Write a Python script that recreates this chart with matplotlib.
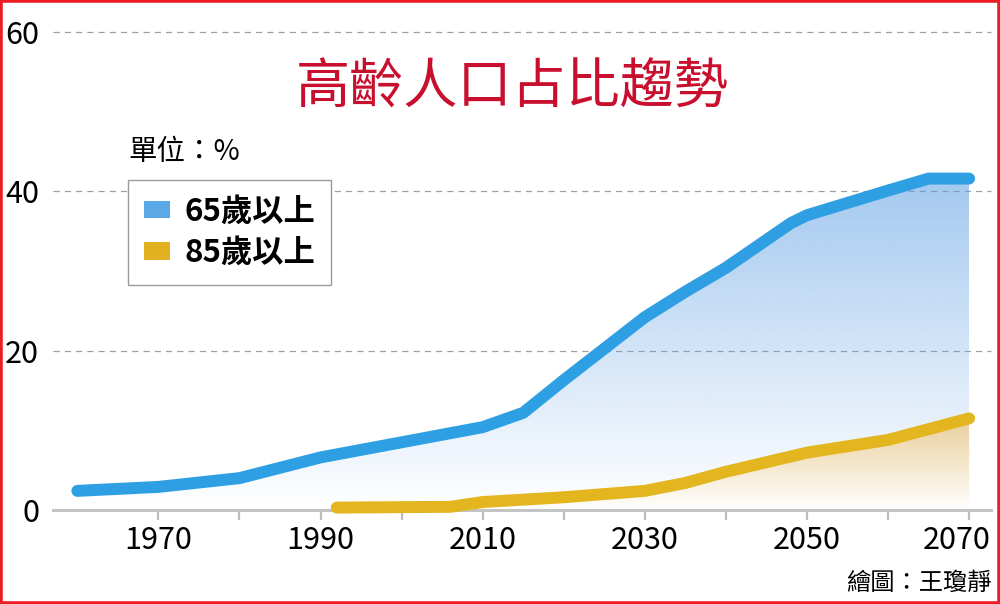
import numpy as np
import matplotlib
matplotlib.use('Agg')
import matplotlib.pyplot as plt
from matplotlib.patches import Patch, Rectangle
from matplotlib.colors import to_rgb
from matplotlib.transforms import ScaledTranslation

plt.rcParams['font.family'] = ['Noto Sans CJK TC', 'DejaVu Sans']

# 資料（由圖讀取的估計值，單位：%）
years_65 = [1960, 1970, 1980, 1990, 2000, 2010, 2015, 2020, 2030, 2035, 2040, 2048, 2050, 2060, 2065, 2070]
share_65 = [2.4, 2.9, 4.0, 6.6, 8.5, 10.4, 12.2, 16.3, 24.2, 27.4, 30.4, 36.0, 37.0, 40.1, 41.6, 41.6]
years_85 = [1992, 2006, 2010, 2020, 2030, 2035, 2040, 2050, 2060, 2070]
share_85 = [0.3, 0.4, 1.0, 1.6, 2.4, 3.4, 4.8, 7.2, 8.8, 11.5]

series_names = ['65歲以上', '85歲以上']
y_ticks = [0, 20, 40, 60]
x_ticks = list(range(1970, 2071, 10))
labeled_years = [1970, 1990, 2010, 2030, 2050, 2070]

blue_line = '#2e9fe3'
yellow_line = '#e3b51e'


def gradient_fill(ax, x, y, color, top_alpha, opaque=False, zorder=1):
    # 垂直漸層，裁切在曲線下方
    n = 256
    rgb = np.array(to_rgb(color))
    t = np.linspace(0, 1, n)
    img = np.ones((n, 1, 4))
    if opaque:
        img[:, 0, :3] = 1 - t[:, None] * top_alpha * (1 - rgb)
    else:
        img[:, 0, :3] = rgb
        img[:, 0, 3] = t * top_alpha
    im = ax.imshow(img, extent=[min(x), max(x), 0, max(y)], origin='lower',
                   aspect='auto', zorder=zorder, interpolation='bilinear')
    poly = ax.fill_between(x, y, 0, facecolor='none', edgecolor='none')
    im.set_clip_path(poly.get_paths()[0], transform=ax.transData)


fig = plt.figure(figsize=(10, 6.04), dpi=100)
ax = fig.add_axes([53 / 1000, (604 - 510) / 604, 938 / 1000, 478 / 604])

gradient_fill(ax, years_65, share_65, '#5f9fe3', 0.57, zorder=1)
gradient_fill(ax, years_85, share_85, '#dcb25c', 0.62, opaque=True, zorder=2)

ax.plot(years_65, share_65, color=blue_line, lw=8.6, solid_capstyle='round',
        solid_joinstyle='round', zorder=4, clip_on=False)
ax.plot(years_85, share_85, color=yellow_line, lw=8.6, solid_capstyle='round',
        solid_joinstyle='round', zorder=4, clip_on=False)

ax.set_xlim(1957, 2072.7)
ax.set_ylim(0, 60)

# 格線
for v in y_ticks[1:]:
    ax.axhline(v, color='#a0a0a0', lw=0.9, ls=(0, (5, 4)), zorder=0, clip_on=False)

for s in ['top', 'right', 'left']:
    ax.spines[s].set_visible(False)
ax.spines['bottom'].set_color('#c4c4c4')
ax.spines['bottom'].set_linewidth(2.2)
ax.spines['bottom'].set_zorder(3)

ax.set_xticks(x_ticks)
ax.set_xticklabels([str(y) if y in labeled_years else '' for y in x_ticks])
ax.tick_params(axis='x', length=7, width=1.6, color='#bdbdbd', pad=4, labelsize=22)
ax.set_yticks(y_ticks)
ax.set_yticklabels([str(v) for v in y_ticks])
ax.tick_params(axis='y', length=0, pad=10, labelsize=22)

# 最後一個年份標籤往左移，避免超出外框
last = ax.get_xticklabels()[-1]
last.set_transform(last.get_transform() + ScaledTranslation(-0.12, 0, fig.dpi_scale_trans))

handles = [Patch(facecolor='#5aa8e6', label=series_names[0]),
           Patch(facecolor='#e2b121', label=series_names[1])]
leg = ax.legend(handles=handles, loc='upper left',
                bbox_to_anchor=(128 / 1000, 1 - 180 / 604), bbox_transform=fig.transFigure,
                frameon=True, fancybox=False, edgecolor='#9a9a9a', framealpha=1,
                prop={'weight': 'bold', 'size': 22.5}, handlelength=0.85, handleheight=0.5,
                handletextpad=0.45, borderpad=0.5, labelspacing=0.3, borderaxespad=0)
leg.get_frame().set_linewidth(1)
leg.set_zorder(6)

fig.text(0.512, 1 - 88 / 604, '高齡人口占比趨勢', ha='center', va='center',
         fontsize=39, color='#c8102e', weight='medium')
fig.text(128 / 1000, 1 - 152 / 604, '單位：%', ha='left', va='center', fontsize=20.5)
fig.text(992 / 1000, 1 - 583 / 604, '繪圖：王瓊靜', ha='right', va='center', fontsize=17.5)

# 紅色外框
fig.patches.append(Rectangle((0, 0), 1, 1, transform=fig.transFigure, fill=False,
                             edgecolor='#ee1c24', lw=4, zorder=10))

fig.savefig('out.png', dpi=100)
